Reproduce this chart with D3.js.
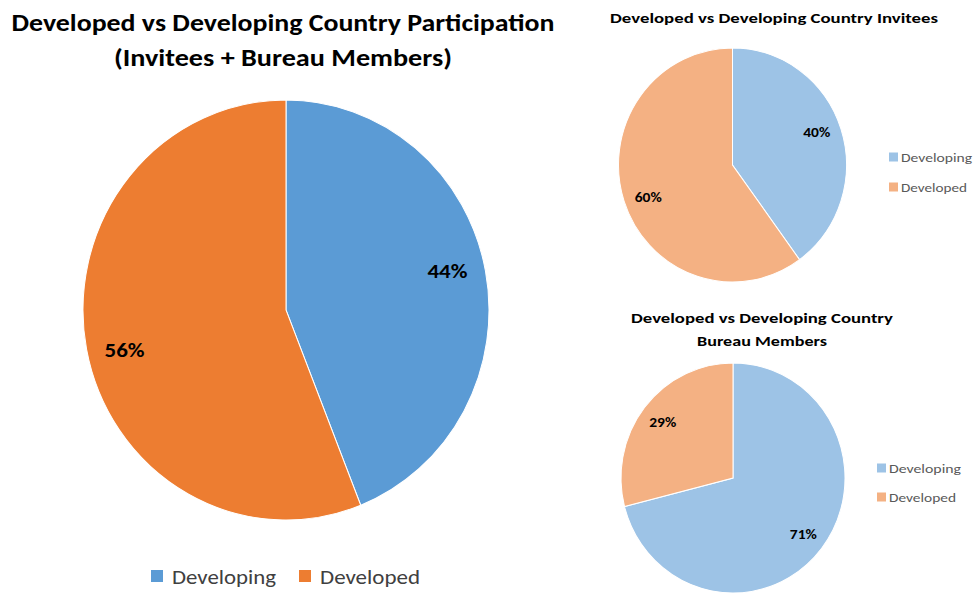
<!DOCTYPE html>
<html>
<head>
<meta charset="utf-8">
<script src="https://cdn.jsdelivr.net/npm/d3@7"></script>
<style>
  body { margin: 0; background: #fff; }
  text { font-family: Calibri, "Open Sans", "Noto Sans", sans-serif; }
</style>
</head>
<body>
<svg id="chart" width="976" height="595"></svg>
<script>
// data
var categories = ["Developing", "Developed"]
var totalValues = [44, 56]
var inviteeValues = [40, 60]
var bureauValues = [71, 29]

var darkColors = ["#5b9bd5", "#ed7d31"]
var lightColors = ["#9dc3e6", "#f4b183"]

var svg = d3.select("#chart")

// draws one pie, starting at 12 o'clock and going clockwise
// (the source picture is a little stretched vertically, so ry can differ from rx)
function drawPie(values, cx, cy, rx, ry, colors, labelR, angleShift, fontSize, labelW) {
    var pie = d3.pie().sort(null).value(function (d) { return d })
    var arc = d3.arc().innerRadius(0).outerRadius(rx)
    var sy = ry / rx
    var g = svg.append("g").attr("transform", "translate(" + cx + "," + cy + ")")
    var arcs = pie(values)
    g.append("g")
        .attr("transform", "scale(1," + sy + ")")
        .selectAll("path")
        .data(arcs)
        .enter().append("path")
        .attr("d", arc)
        .attr("fill", function (d, i) { return colors[i] })
        .attr("stroke", "#fff")
        .attr("stroke-width", 1)
    g.selectAll("text")
        .data(arcs)
        .enter().append("text")
        .attr("transform", function (d) {
            var p = d3.pointRadial((d.startAngle + d.endAngle) / 2 + angleShift, labelR)
            return "translate(" + p[0] + "," + (p[1] * sy) + ")"
        })
        .attr("text-anchor", "middle")
        .attr("dy", "0.35em")
        .attr("font-size", fontSize)
        .attr("font-weight", "bold")
        .attr("fill", "#000")
        .attr("textLength", labelW)
        .attr("lengthAdjust", "spacingAndGlyphs")
        .text(function (d) { return d.data + "%" })
}

function drawTitle(lines, cx, y0, lineH, size, widths) {
    lines.forEach(function (t, i) {
        svg.append("text")
            .attr("x", cx).attr("y", y0 + i * lineH)
            .attr("text-anchor", "middle")
            .attr("font-size", size)
            .attr("font-weight", "bold")
            .attr("fill", "#000")
            .attr("textLength", widths[i])
            .attr("lengthAdjust", "spacingAndGlyphs")
            .text(t)
    })
}

function drawLegend(x, y, gap, colors, size, fontSize, textW) {
    categories.forEach(function (c, i) {
        svg.append("rect")
            .attr("x", x).attr("y", y + i * gap - size / 2)
            .attr("width", size).attr("height", size)
            .attr("fill", colors[i])
        svg.append("text")
            .attr("x", x + size + 3).attr("y", y + i * gap)
            .attr("dy", "0.35em")
            .attr("font-size", fontSize)
            .attr("fill", "#595959")
            .attr("textLength", textW[i])
            .attr("lengthAdjust", "spacingAndGlyphs")
            .text(c)
    })
}

// big pie
drawTitle(["Developed vs Developing Country Participation", "(Invitees + Bureau Members)"],
    283, 31, 35, 24, [543, 338])
drawPie(totalValues, 286, 310, 203, 210, darkColors, 166, -0.045, 21, 40)

// bottom legend of big pie
var bottomLegendX = [151, 299]
var bottomLegendW = [104, 100]
categories.forEach(function (c, i) {
    svg.append("rect")
        .attr("x", bottomLegendX[i]).attr("y", 570)
        .attr("width", 12).attr("height", 12)
        .attr("fill", darkColors[i])
    svg.append("text")
        .attr("x", bottomLegendX[i] + 21).attr("y", 577)
        .attr("dy", "0.35em")
        .attr("font-size", 21)
        .attr("fill", "#404040")
        .attr("textLength", bottomLegendW[i])
        .attr("lengthAdjust", "spacingAndGlyphs")
        .text(c)
})

// invitees pie
drawTitle(["Developed vs Developing Country Invitees"], 774, 23, 0, 14, [328])
drawPie(inviteeValues, 732.5, 165, 114, 117, lightColors, 90, -0.045, 13, 27)
drawLegend(889, 157, 30, lightColors, 9, 13, [71, 66])

// bureau members pie
drawTitle(["Developed vs Developing Country", "Bureau Members"], 762, 323, 23, 14, [262, 130])
drawPie(bureauValues, 733, 478, 112, 115, lightColors, 89, 0, 13, 27)
drawLegend(877, 468, 29, lightColors, 9, 13, [72, 67])
</script>
</body>
</html>
